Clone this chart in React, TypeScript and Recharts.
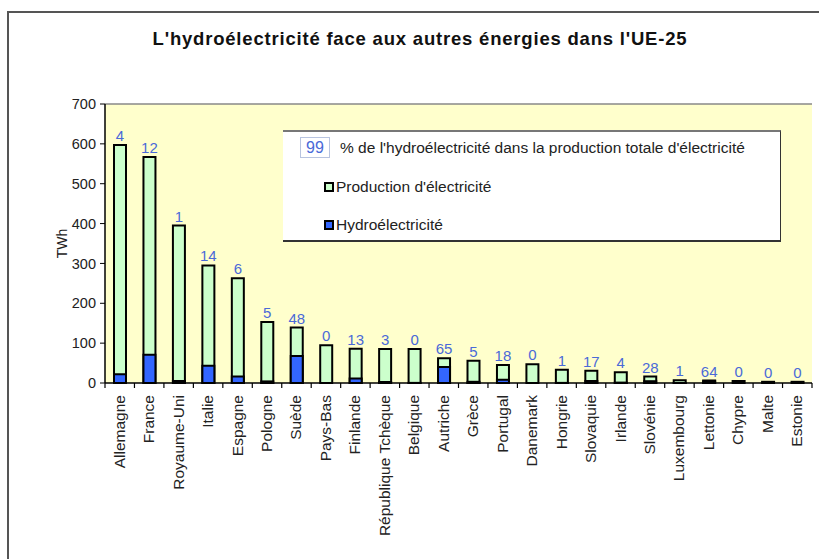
import {
  BarChart,
  Bar,
  XAxis,
  YAxis,
  CartesianGrid,
  ReferenceLine,
  LabelList,
  Legend,
} from "recharts";

const countries = [
  "Allemagne", "France", "Royaume-Uni", "Italie", "Espagne", "Pologne",
  "Suède", "Pays-Bas", "Finlande", "République Tchèque", "Belgique", "Autriche",
  "Grèce", "Portugal", "Danemark", "Hongrie", "Slovaquie", "Irlande",
  "Slovénie", "Luxembourg", "Lettonie", "Chypre", "Malte", "Estonie",
];
// production totale d'électricité (TWh)
const production = [
  597, 567, 395, 295, 263, 153, 139, 95, 86, 85, 85, 62,
  56, 45, 47, 33, 31, 27, 16, 7, 6, 5, 3, 3,
];
// hydroélectricité (TWh)
const hydro = [
  22, 71, 5, 43, 16, 4, 68, 0, 11, 2.5, 0.3, 40,
  3, 8, 0, 0.3, 5, 1, 4.5, 0.1, 4, 0, 0, 0,
];
// % de l'hydroélectricité
const pct = [4, 12, 1, 14, 6, 5, 48, 0, 13, 3, 0, 65, 5, 18, 0, 1, 17, 4, 28, 1, 64, 0, 0, 0];
const yTicks = [0, 100, 200, 300, 400, 500, 600, 700];

const data = countries.map((name, i) => ({
  name,
  production: production[i],
  hydro: hydro[i],
  pct: pct[i],
}));

const FONT = '"Liberation Sans", Arial, sans-serif';
const LABEL_BLUE = "#4a6ad8";

// label tourné + petits traits de graduation entre les catégories
function CountryTick({ x, y, payload, index }: any) {
  const half = payload.offset || 0;
  const axisY = y - 8;
  const isLast = index === countries.length - 1;
  return (
    <g>
      <line x1={x - half} x2={x - half} y1={axisY} y2={axisY + 5} stroke="#000" strokeWidth={1.2} />
      {isLast && (
        <line x1={x + half} x2={x + half} y1={axisY} y2={axisY + 5} stroke="#000" strokeWidth={1.2} />
      )}
      <text
        x={x}
        y={y + 4}
        transform={`rotate(-90 ${x} ${y + 4})`}
        textAnchor="end"
        dy={5}
        fontSize={15.5}
        fontFamily={FONT}
        fill="#222"
      >
        {payload.value}
      </text>
    </g>
  );
}

function LegendBox() {
  return (
    <div
      style={{
        position: "relative",
        width: 498,
        height: 112,
        background: "#fff",
        borderTop: "2px solid #777",
        borderRight: "1.5px solid #333",
        borderBottom: "2px solid #333",
        boxSizing: "border-box",
        fontSize: 15.5,
        fontFamily: FONT,
        color: "#222",
        textAlign: "left",
        lineHeight: "18px",
      }}
    >
      <div
        style={{
          position: "absolute", left: 17, top: 5, width: 30, height: 21,
          border: "1px solid #b8c4e0", boxSizing: "border-box",
          color: LABEL_BLUE, fontSize: 16, lineHeight: "19px", textAlign: "center",
        }}
      >
        99
      </div>
      <div style={{ position: "absolute", left: 57, top: 7, whiteSpace: "nowrap" }}>
        % de l'hydroélectricité dans la production totale d'électricité
      </div>
      <div
        style={{
          position: "absolute", left: 41, top: 50, width: 10, height: 10,
          border: "2px solid #000", background: "#ccffcc", boxSizing: "border-box",
        }}
      />
      <div style={{ position: "absolute", left: 53, top: 46, whiteSpace: "nowrap" }}>
        Production d'électricité
      </div>
      <div
        style={{
          position: "absolute", left: 41, top: 88, width: 10, height: 10,
          border: "2px solid #000", background: "#3366ff", boxSizing: "border-box",
        }}
      />
      <div style={{ position: "absolute", left: 53, top: 84, whiteSpace: "nowrap" }}>
        Hydroélectricité
      </div>
    </div>
  );
}

export default function App() {
  return (
    <div
      style={{
        position: "absolute", left: 0, top: 0, width: 819, height: 559,
        background: "#fff", overflow: "hidden", fontFamily: FONT,
      }}
    >
      <div
        style={{
          position: "absolute", left: 7, top: 11, width: 840, height: 600,
          border: "2px solid #555",
        }}
      />
      <div
        style={{
          position: "absolute", left: 0, top: 28, width: 840, textAlign: "center",
          fontSize: 18.5, letterSpacing: 0.8, fontWeight: "bold", color: "#111",
        }}
      >
        L'hydroélectricité face aux autres énergies dans l'UE-25
      </div>
      <div style={{ position: "absolute", left: 0, top: 0 }}>
        <BarChart
          width={819}
          height={559}
          data={data}
          margin={{ top: 104, right: 7, left: 0, bottom: 0 }}
          barSize={12}
          barGap={-12}
        >
          <CartesianGrid horizontal={false} vertical={false} fill="#ffffcc" fillOpacity={1} />
          <XAxis
            dataKey="name"
            interval={0}
            height={176}
            tickLine={false}
            axisLine={{ stroke: "#000", strokeWidth: 1.5 }}
            tick={<CountryTick />}
          />
          <YAxis
            width={105}
            domain={[0, 700]}
            ticks={yTicks}
            interval={0}
            tickSize={5}
            tickMargin={4}
            axisLine={{ stroke: "#000", strokeWidth: 1.5 }}
            tickLine={{ stroke: "#000" }}
            tick={{ fontSize: 14.5, fill: "#222", fontFamily: FONT }}
            label={{ value: "TWh", angle: -90, position: "center", dx: 10, fontSize: 14, fill: "#222", fontFamily: FONT }}
          />
          <YAxis
            yAxisId="r"
            orientation="right"
            width={0}
            domain={[0, 700]}
            tick={false}
            tickLine={false}
            axisLine={{ stroke: "#888", strokeWidth: 1.5 }}
          />
          <ReferenceLine y={700} stroke="#888" strokeWidth={1.5} />
          <Legend
            layout="vertical"
            align="center"
            verticalAlign="middle"
            content={<LegendBox />}
            wrapperStyle={{ left: 283, top: 130, width: 498, height: 112 }}
          />
          <Bar dataKey="production" fill="#ccffcc" stroke="#000" strokeWidth={2} isAnimationActive={false}>
            <LabelList dataKey="pct" position="top" offset={4} fill={LABEL_BLUE} fontSize={15} fontFamily={FONT} />
          </Bar>
          <Bar dataKey="hydro" fill="#3366ff" stroke="#000" strokeWidth={2} isAnimationActive={false} />
        </BarChart>
      </div>
    </div>
  );
}
